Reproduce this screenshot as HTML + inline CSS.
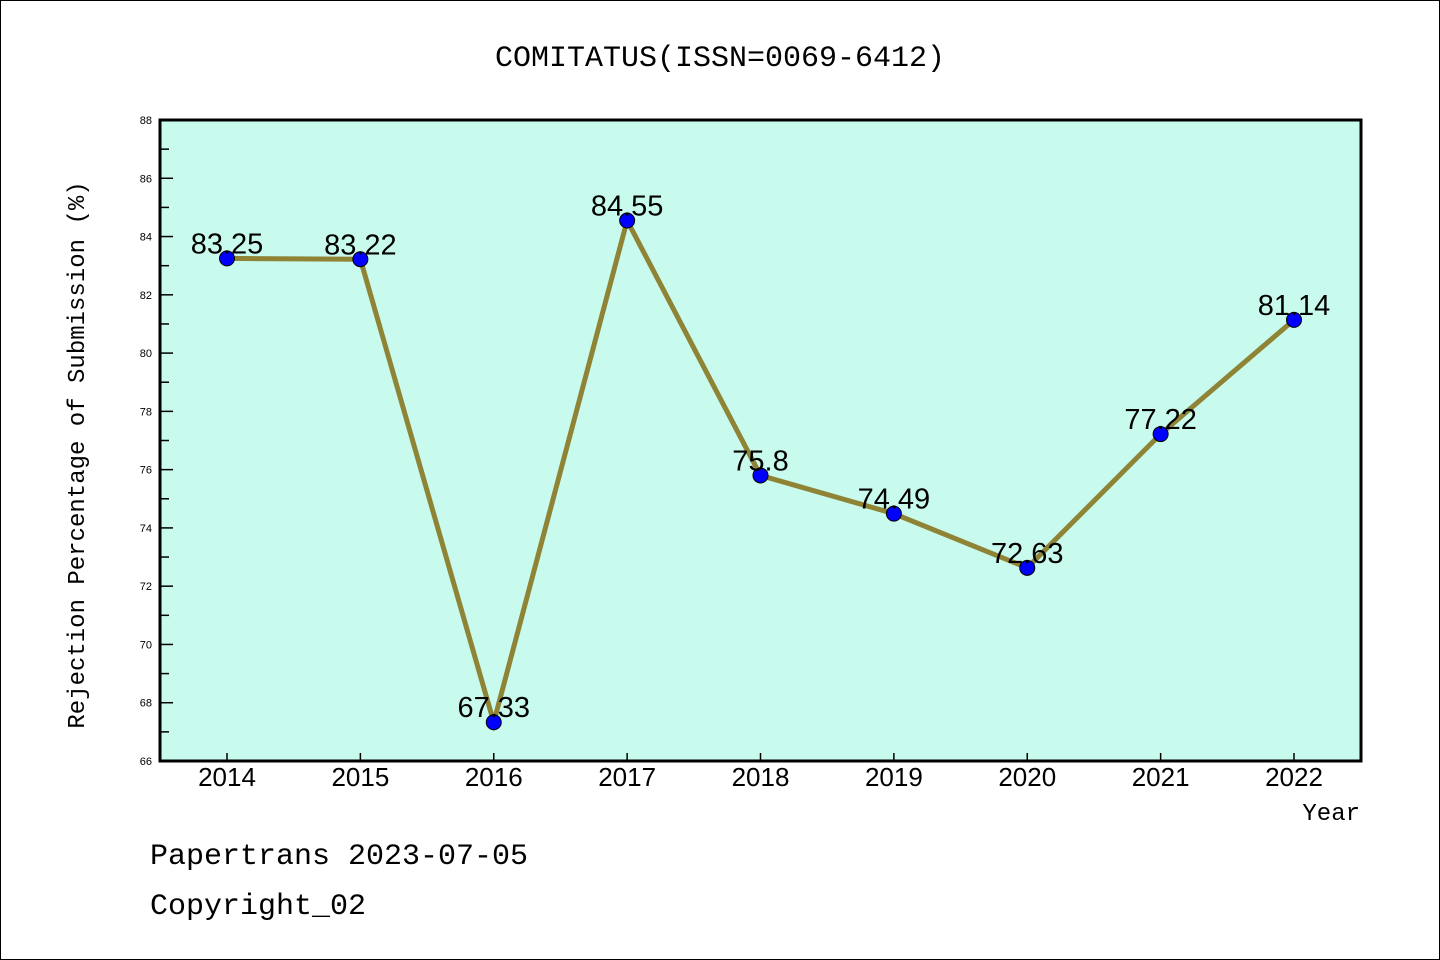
<!DOCTYPE html>
<html><head><meta charset="utf-8"><style>
html,body{margin:0;padding:0;background:#fff}
svg{display:block}
text{font-family:"Liberation Sans",sans-serif}
.mono{font-family:"Liberation Mono",monospace}
</style></head><body>
<svg id="chart" width="1440" height="960">
<rect x="0.5" y="0.5" width="1439" height="959" fill="#fff" stroke="#000"/>
<text class="mono" x="720" y="66" text-anchor="middle" font-size="30">COMITATUS(ISSN=0069-6412)</text>
<rect x="160" y="120" width="1201" height="641" fill="#c8fbee"/>
<g id="axes"></g>
<g id="marks"></g>
<rect x="160" y="120" width="1201" height="641" fill="none" stroke="#000" stroke-width="3"/>
<text class="mono" x="1360" y="820" text-anchor="end" font-size="24">Year</text>
<text class="mono" transform="translate(84,455) rotate(-90)" text-anchor="middle" font-size="24">Rejection Percentage of Submission (%)</text>
<text class="mono" x="150" y="864" font-size="30">Papertrans 2023-07-05</text>
<text class="mono" x="150" y="914" font-size="30">Copyright_02</text>
</svg>
<script>
const years=["2014","2015","2016","2017","2018","2019","2020","2021","2022"];
const values=[83.25,83.22,67.33,84.55,75.8,74.49,72.63,77.22,81.14];
const labels=["83.25","83.22","67.33","84.55","75.8","74.49","72.63","77.22","81.14"];
const yTicks=[66,68,70,72,74,76,78,80,82,84,86,88];
const NS="http://www.w3.org/2000/svg";
function xs(i){return 227+i*(1294-227)/(years.length-1);}
function ys(v){return 761-(v-66)*(641/22);}
function mk(t,a,p){const e=document.createElementNS(NS,t);for(const k in a)e.setAttribute(k,a[k]);p.appendChild(e);return e;}
const ax=document.getElementById('axes'),mg=document.getElementById('marks');
yTicks.forEach(v=>{
 const y=ys(v);
 const t=mk('line',{x1:160,x2:173,y1:y,y2:y,stroke:'#000','stroke-width':1.5},ax);
 
 
 const l=mk('text',{x:152,y:y+4,'text-anchor':'end','font-size':11},ax);
 l.textContent=v;
 
 
 if(v<88){const m=ys(v+1);
 const mt=mk('line',{x1:160,x2:169,y1:m,y2:m,stroke:'#000','stroke-width':1.5},ax);
 
 }
});
years.forEach((yr,i)=>{
 const x=xs(i);
 const t=mk('line',{x1:x,x2:x,y1:753,y2:761,stroke:'#000','stroke-width':1.5},ax);
 
 
 const l=mk('text',{x:x,y:786,'text-anchor':'middle','font-size':26},ax);
 l.textContent=yr;
 
 
});
const pl=mk('polyline',{points:values.map((v,i)=>xs(i)+','+ys(v)).join(' '),fill:'none',stroke:'#8f8336','stroke-width':5},mg);


values.forEach((v,i)=>{
 const c=mk('circle',{cx:xs(i),cy:ys(v),r:7.5,fill:'#0000ff',stroke:'#000','stroke-width':1},mg);
 
 
 const l=mk('text',{x:xs(i),y:ys(v)-5,'text-anchor':'middle','font-size':29},mg);
 l.textContent=labels[i];
 
 
});
</script>
</body></html>
